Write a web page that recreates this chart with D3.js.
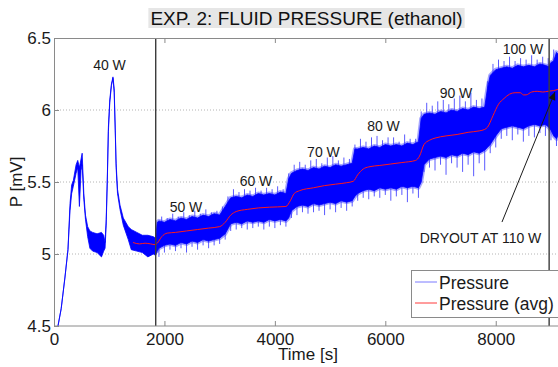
<!DOCTYPE html>
<html>
<head>
<meta charset="utf-8">
<script src="https://cdn.jsdelivr.net/npm/d3@7"></script>
<style>
  html, body { margin: 0; padding: 0; background: #fff; }
  svg { display: block; font-family: "Liberation Sans", Arial, Helvetica, sans-serif; }
</style>
</head>
<body>
<div id="chart"></div>
<script>
// pressure signal envelope (time [s], upper / lower edge of the trace [mV])
const sigT = [72, 130, 199, 253, 290, 320, 350, 400, 430, 460, 490, 510, 540, 570, 610, 650, 700, 780, 860, 900, 925,
  945, 965, 985, 1010, 1040, 1068, 1090, 1110, 1125, 1150, 1195, 1255, 1345, 1400, 1500, 1600, 1700, 1800, 1840,
  1870, 1900, 2000, 2100, 2200, 2300, 2400, 2500, 2600, 2700, 2800, 2900, 3000, 3100, 3200, 3300, 3400, 3500,
  3600, 3700, 3800, 3900, 4000, 4100, 4200, 4250, 4300, 4400, 4500, 4600, 4700, 4800, 4900, 5000, 5100, 5200,
  5300, 5400, 5450, 5500, 5600, 5700, 5800, 5900, 6000, 6100, 6200, 6300, 6400, 6500, 6600, 6650, 6700, 6800,
  6900, 7000, 7100, 7200, 7300, 7400, 7500, 7600, 7700, 7800, 7850, 7900, 8000, 8100, 8200, 8300, 8400, 8500,
  8600, 8700, 8800, 8900, 8960, 9000, 9050, 9100, 9150, 9200];
const sigHi = [4.50, 4.62, 4.84, 5.03, 5.35, 5.48, 5.51, 5.62, 5.65, 5.60, 5.66, 5.70, 5.42, 5.27, 5.19, 5.16, 5.15, 5.14, 5.15, 5.13, 5.08,
  5.24, 5.52, 5.88, 6.07, 6.18, 6.23, 6.15, 5.86, 5.63, 5.45, 5.34, 5.25, 5.19, 5.17, 5.15, 5.13, 5.13, 5.12, 5.11,
  5.22, 5.23, 5.22, 5.24, 5.23, 5.25, 5.24, 5.26, 5.25, 5.27, 5.26, 5.28, 5.27, 5.33, 5.39, 5.40, 5.39, 5.41,
  5.40, 5.42, 5.41, 5.42, 5.41, 5.43, 5.42, 5.52, 5.56, 5.58, 5.59, 5.58, 5.60, 5.59, 5.61, 5.60, 5.62, 5.61,
  5.62, 5.63, 5.73, 5.73, 5.74, 5.73, 5.75, 5.74, 5.76, 5.75, 5.76, 5.75, 5.77, 5.76, 5.78, 5.94, 5.97, 5.98,
  5.97, 5.99, 5.98, 6.00, 5.99, 6.01, 6.00, 6.02, 6.01, 6.02, 6.15, 6.24, 6.28, 6.29, 6.30, 6.29, 6.31, 6.30,
  6.31, 6.30, 6.32, 6.31, 6.30, 6.33, 6.34, 6.40, 6.38, 6.35];
const sigLo = [4.50, 4.62, 4.84, 5.03, 5.30, 5.42, 5.47, 5.56, 5.60, 5.33, 5.58, 5.62, 5.38, 5.24, 5.12, 5.04, 5.02, 5.01, 4.98, 5.02, 5.04,
  5.20, 5.50, 5.85, 6.05, 6.17, 6.22, 6.12, 5.84, 5.60, 5.42, 5.31, 5.20, 5.10, 5.03, 5.02, 5.01, 4.98, 5.00, 4.99,
  5.02, 5.04, 5.06, 5.07, 5.06, 5.08, 5.07, 5.09, 5.08, 5.10, 5.09, 5.10, 5.11, 5.14, 5.21, 5.22, 5.21, 5.23,
  5.22, 5.23, 5.22, 5.24, 5.23, 5.24, 5.23, 5.25, 5.30, 5.33, 5.34, 5.33, 5.35, 5.34, 5.35, 5.36, 5.35, 5.37,
  5.36, 5.37, 5.40, 5.42, 5.44, 5.45, 5.44, 5.46, 5.45, 5.46, 5.45, 5.47, 5.46, 5.47, 5.46, 5.50, 5.62, 5.66,
  5.67, 5.68, 5.67, 5.69, 5.68, 5.70, 5.69, 5.71, 5.70, 5.72, 5.74, 5.76, 5.82, 5.87, 5.88, 5.89, 5.88, 5.87,
  5.89, 5.90, 5.89, 5.90, 5.88, 5.86, 5.82, 5.80, 5.84, 5.86];
const bandStartT = 1870;

// noise peaks sticking out of the band
const spikeUpT = [1950, 2050, 2150, 2250, 2350, 2450, 2550, 2650, 2750, 2850, 2950, 3050, 3150, 3250, 3350,
  3450, 3550, 3650, 3750, 3850, 3950, 4050, 4150, 4250, 4350, 4450, 4550, 4650, 4750, 4850, 4950, 5050, 5150,
  5250, 5350, 5450, 5550, 5650, 5750, 5850, 5950, 6050, 6150, 6250, 6350, 6450, 6550, 6650, 6750, 6850, 6950,
  7050, 7150, 7250, 7350, 7450, 7550, 7650, 7750, 7850, 7950, 8050, 8150, 8250, 8350, 8450, 8550, 8650, 8750,
  8850, 8950, 9050, 9150];
const spikeUpV = [5.26, 5.25, 5.28, 5.26, 5.29, 5.27, 5.30, 5.28, 5.31, 5.29, 5.30, 5.33, 5.40, 5.45, 5.43,
  5.45, 5.44, 5.46, 5.44, 5.46, 5.45, 5.47, 5.45, 5.56, 5.62, 5.64, 5.62, 5.65, 5.66, 5.63, 5.67, 5.68, 5.65,
  5.67, 5.66, 5.76, 5.80, 5.78, 5.81, 5.82, 5.79, 5.81, 5.81, 5.78, 5.83, 5.80, 5.80, 5.99, 6.05, 6.03, 6.06,
  6.07, 6.04, 6.08, 6.10, 6.06, 6.12, 6.07, 6.08, 6.20, 6.32, 6.35, 6.34, 6.37, 6.34, 6.36, 6.35, 6.38, 6.35,
  6.37, 6.36, 6.42, 6.46];
const spikeDnT = [1900, 2000, 2100, 2200, 2300, 2400, 2500, 2600, 2700, 2800, 2900, 3000, 3100, 3200, 3300,
  3400, 3500, 3600, 3700, 3800, 3900, 4000, 4100, 4200, 4300, 4400, 4500, 4600, 4700, 4800, 4900, 5000, 5100,
  5200, 5300, 5400, 5500, 5600, 5700, 5800, 5900, 6000, 6100, 6200, 6300, 6400, 6500, 6600, 6700, 6800, 6900,
  7000, 7100, 7200, 7300, 7400, 7500, 7600, 7700, 7800, 7900, 8000, 8100, 8200, 8300, 8400, 8500, 8600, 8700,
  8800, 8900, 9000, 9100];
const spikeDnV = [4.98, 5.01, 5.03, 5.02, 5.04, 5.01, 5.05, 5.03, 5.06, 5.04, 5.06, 5.07, 5.10, 5.16, 5.17,
  5.18, 5.17, 5.18, 5.19, 5.17, 5.19, 5.18, 5.20, 5.19, 5.25, 5.27, 5.29, 5.28, 5.29, 5.30, 5.27, 5.31, 5.29,
  5.32, 5.30, 5.33, 5.37, 5.39, 5.38, 5.40, 5.39, 5.41, 5.37, 5.40, 5.41, 5.36, 5.42, 5.39, 5.57, 5.60, 5.58,
  5.62, 5.55, 5.63, 5.60, 5.57, 5.62, 5.54, 5.63, 5.58, 5.70, 5.74, 5.80, 5.82, 5.79, 5.83, 5.78, 5.82, 5.81,
  5.84, 5.82, 5.79, 5.75];

// moving average
const avgT = [1430, 1550, 1650, 1750, 1830, 1870, 1950, 2050, 2200, 2400, 2600, 2800, 3000, 3100, 3200, 3300,
  3500, 3700, 3900, 4200, 4280, 4350, 4450, 4700, 4900, 5100, 5300, 5420, 5500, 5600, 5700, 5900, 6100, 6300,
  6550, 6620, 6700, 6800, 6900, 7100, 7300, 7500, 7700, 7800, 7850, 7950, 8050, 8150, 8250, 8350, 8450, 8500,
  8550, 8650, 8750, 8850, 8950, 9050, 9150, 9200];
const avgV = [5.08, 5.07, 5.075, 5.07, 5.065, 5.075, 5.12, 5.145, 5.15, 5.16, 5.17, 5.18, 5.19, 5.22, 5.27, 5.295,
  5.31, 5.32, 5.325, 5.33, 5.37, 5.42, 5.44, 5.46, 5.475, 5.485, 5.495, 5.505, 5.55, 5.59, 5.605, 5.615, 5.625, 5.635,
  5.65, 5.68, 5.76, 5.79, 5.805, 5.82, 5.83, 5.845, 5.855, 5.865, 5.88, 5.96, 6.04, 6.08, 6.11, 6.12, 6.12, 6.105,
  6.105, 6.125, 6.13, 6.125, 6.13, 6.135, 6.145, 6.15];

const markerT = [1842, 8967];
const powerLabels = ["40 W", "50 W", "60 W", "70 W", "80 W", "90 W", "100 W"];
const powerT = [1005, 2390, 3658, 4880, 5967, 7280, 8493];
const powerV = [6.278, 5.292, 5.472, 5.674, 5.854, 6.083, 6.389];
const dryoutFrom = [8113, 5.222];
const dryoutTo = [9073, 6.125];
const dryoutText = [7724, 5.076];

const xTicks = [0, 2000, 4000, 6000, 8000];
const yTicks = [4.5, 5, 5.5, 6, 6.5];
const yGrid = [5, 5.5, 6];

const W = 558, H = 367;
const x = d3.scaleLinear().domain([0, 9200]).range([54, 562]);
const y = d3.scaleLinear().domain([4.5, 6.5]).range([326, 38]);

const svg = d3.select("#chart").append("svg")
  .attr("width", W).attr("height", H);

svg.append("defs").append("clipPath").attr("id", "plotclip")
  .append("rect").attr("x", 54).attr("y", 38).attr("width", 508).attr("height", 288);

// grid
svg.append("g").selectAll("line").data(yGrid).enter().append("line")
  .attr("x1", 54).attr("x2", 562)
  .attr("y1", d => y(d)).attr("y2", d => y(d))
  .attr("stroke", "#b4b4b4").attr("stroke-dasharray", "1,2");

const plot = svg.append("g").attr("clip-path", "url(#plotclip)");

const band = sigT.map((t, i) => ({ t: t, hi: sigHi[i], lo: sigLo[i] }));
const area = d3.area()
  .x(d => x(d.t))
  .y0(d => y(d.lo))
  .y1(d => y(d.hi));

// soft fringe around the noisy part
plot.append("path").datum(band.filter(d => d.t >= bandStartT))
  .attr("d", area)
  .attr("fill", "none")
  .attr("stroke", "#3a3aff")
  .attr("stroke-opacity", 0.45)
  .attr("stroke-width", 4)
  .attr("stroke-linejoin", "round");

// spikes start from the middle of the band
const hiAt = d3.scaleLinear().domain(sigT).range(sigHi);
const loAt = d3.scaleLinear().domain(sigT).range(sigLo);
const spikes = spikeUpT.map((t, i) => ({ t: t, v: spikeUpV[i] }))
  .concat(spikeDnT.map((t, i) => ({ t: t, v: spikeDnV[i] })));
plot.append("g").selectAll("line").data(spikes).enter().append("line")
  .attr("x1", d => x(d.t)).attr("x2", d => x(d.t))
  .attr("y1", d => y((hiAt(d.t) + loAt(d.t)) / 2))
  .attr("y2", d => y(d.v))
  .attr("stroke", "#3030ff").attr("stroke-width", 0.8);

plot.append("path").datum(band)
  .attr("d", area)
  .attr("fill", "#0000ff")
  .attr("stroke", "#0000ff")
  .attr("stroke-width", 0.8)
  .attr("stroke-linejoin", "round");

const avgLine = d3.line().x(d => x(d[0])).y(d => y(d[1])).curve(d3.curveMonotoneX);
plot.append("path").datum(avgT.map((t, i) => [t, avgV[i]]))
  .attr("d", avgLine)
  .attr("fill", "none")
  .attr("stroke", "#ff1a1a")
  .attr("stroke-width", 1);

// heat load change markers
plot.append("g").selectAll("line").data(markerT).enter().append("line")
  .attr("x1", d => x(d)).attr("x2", d => x(d))
  .attr("y1", 38).attr("y2", 326)
  .attr("stroke", "#3c3c3c").attr("stroke-width", 1.4);

// axes box
svg.append("rect").attr("x", 54.5).attr("y", 38.5).attr("width", 508).attr("height", 287.5)
  .attr("fill", "none").attr("stroke", "#8a8a8a").attr("stroke-width", 1);

const xAxis = svg.append("g").attr("transform", "translate(0,326)")
  .call(d3.axisBottom(x).tickValues(xTicks).tickSizeInner(-5).tickSizeOuter(0).tickPadding(7).tickFormat(d3.format("d")));
const xAxisTop = svg.append("g").attr("transform", "translate(0,38)")
  .call(d3.axisTop(x).tickValues(xTicks).tickSizeInner(-5).tickSizeOuter(0).tickFormat(""));
const yAxis = svg.append("g").attr("transform", "translate(54,0)")
  .call(d3.axisLeft(y).tickValues(yTicks).tickSizeInner(-5).tickSizeOuter(0).tickPadding(3).tickFormat(d => d3.format("")(d)));

[xAxis, xAxisTop, yAxis].forEach(g => {
  g.select(".domain").remove();
  g.selectAll(".tick line").attr("stroke", "#8a8a8a");
  g.selectAll(".tick text").attr("fill", "#1a1a1a").attr("font-size", 17)
    .attr("font-family", "'Liberation Sans', Arial, sans-serif");
});

// axis labels
svg.append("text").attr("x", 308).attr("y", 360)
  .attr("text-anchor", "middle").attr("font-size", 17).attr("fill", "#1a1a1a")
  .text("Time [s]");
svg.append("text").attr("transform", "translate(22,182) rotate(-90)")
  .attr("text-anchor", "middle").attr("font-size", 17).attr("fill", "#1a1a1a")
  .text("P [mV]");

// title with grey background
const titleBg = svg.append("rect").attr("fill", "#e6e6e6");
const title = svg.append("text").attr("x", 306.5).attr("y", 24.5)
  .attr("text-anchor", "middle").attr("font-size", 19).attr("fill", "#111")
  .text("EXP. 2: FLUID PRESSURE (ethanol)");
const tb = title.node().getBBox();
titleBg.attr("x", tb.x - 2).attr("y", 8).attr("width", tb.width + 4).attr("height", 20);

// power annotations
svg.append("g").selectAll("text").data(powerLabels).enter().append("text")
  .attr("x", (d, i) => x(powerT[i]))
  .attr("y", (d, i) => y(powerV[i]))
  .attr("text-anchor", "middle").attr("font-size", 14).attr("fill", "#1a1a1a")
  .text(d => d);

svg.append("text").attr("x", x(dryoutText[0])).attr("y", y(dryoutText[1]))
  .attr("text-anchor", "middle").attr("font-size", 14).attr("fill", "#1a1a1a")
  .text("DRYOUT AT 110 W");

// arrow to the dryout point
const ax0 = x(dryoutFrom[0]), ay0 = y(dryoutFrom[1]);
const ax1 = x(dryoutTo[0]), ay1 = y(dryoutTo[1]);
svg.append("line").attr("x1", ax0).attr("y1", ay0).attr("x2", ax1).attr("y2", ay1)
  .attr("stroke", "#1a1a1a").attr("stroke-width", 1);
const ang = Math.atan2(ay1 - ay0, ax1 - ax0);
const hl = 8, hw = 3.5;
const bx = ax1 - hl * Math.cos(ang), by = ay1 - hl * Math.sin(ang);
svg.append("path")
  .attr("d", "M" + ax1 + "," + ay1 +
    "L" + (bx + hw * Math.sin(ang)) + "," + (by - hw * Math.cos(ang)) +
    "L" + (bx - hw * Math.sin(ang)) + "," + (by + hw * Math.cos(ang)) + "Z")
  .attr("fill", "#111");

// legend
const legend = svg.append("g");
legend.append("rect").attr("x", 411.5).attr("y", 270.5).attr("width", 160).attr("height", 47)
  .attr("fill", "#fff").attr("stroke", "#8a8a8a");
const legItems = [["Pressure", "#7a7aff"], ["Pressure (avg)", "#ff3a3a"]];
legItems.forEach((it, i) => {
  const ly = 282 + i * 21;
  legend.append("line").attr("x1", 415).attr("x2", 437).attr("y1", ly).attr("y2", ly)
    .attr("stroke", it[1]).attr("stroke-width", 1);
  legend.append("text").attr("x", 439).attr("y", ly + 6.5)
    .attr("font-size", 17.5).attr("fill", "#1a1a1a").text(it[0]);
});
</script>
</body>
</html>
